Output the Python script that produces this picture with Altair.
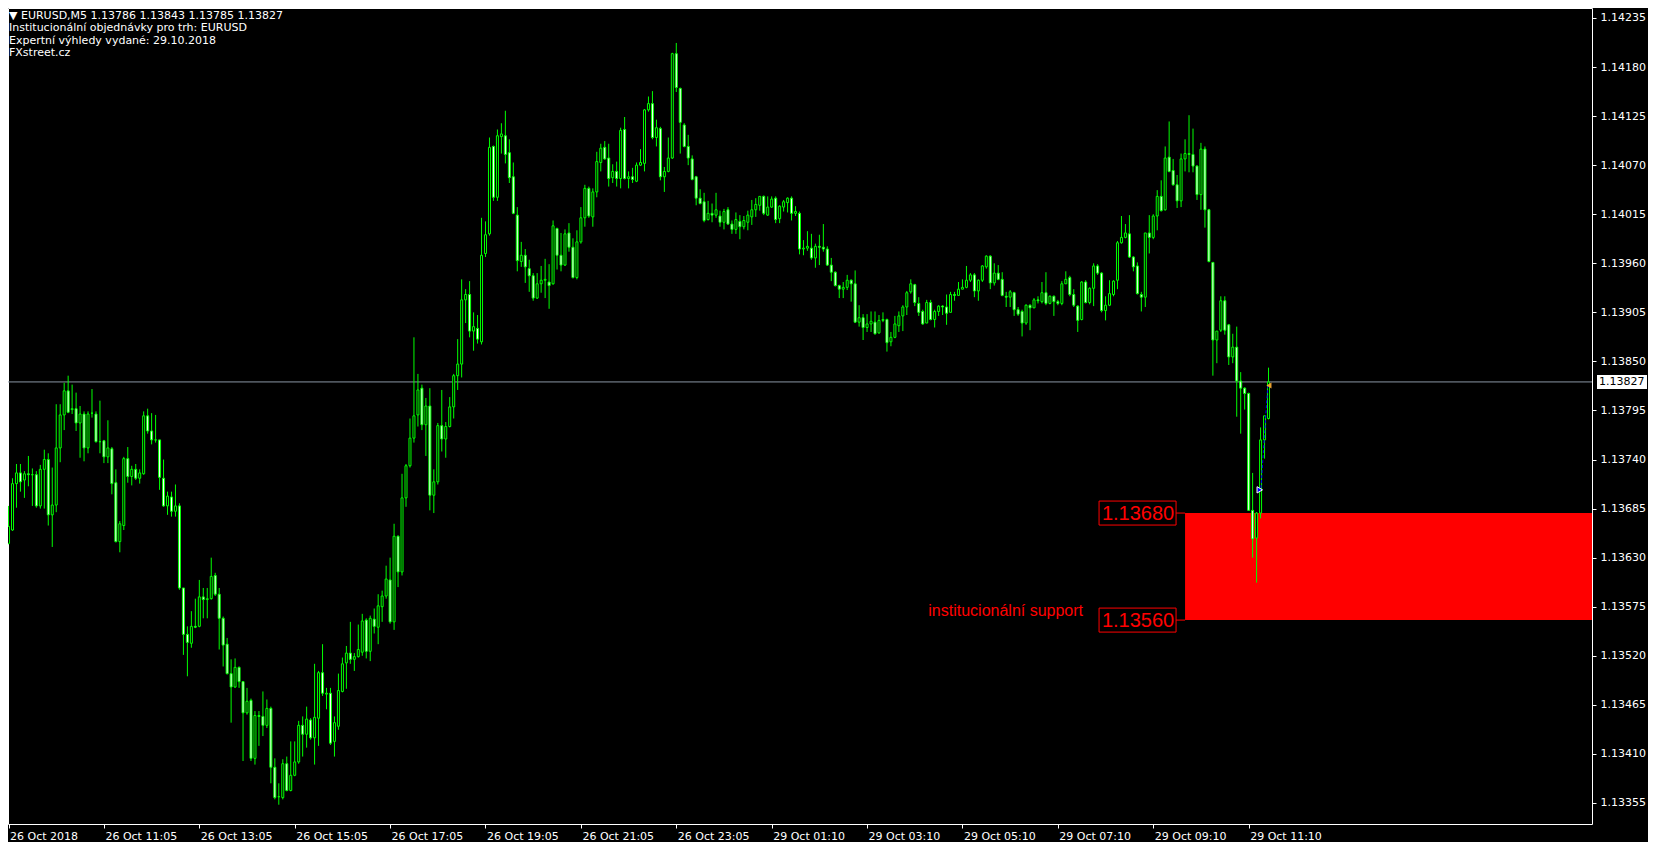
import altair as alt
import pandas as pd

# ---------------- data (prices stored as points above 1.13000) ----------------
BASE = 1.13
O = [646,661,713,725,717,724,723,723,688,729,740,678,689,753,790,817,796,797,781,791,
     753,792,791,760,761,743,752,714,648,666,741,721,729,719,724,789,772,762,762,719,
     688,698,682,688,596,544,534,553,553,586,583,584,610,589,562,533,500,485,507,491,
     456,470,405,453,452,442,461,395,362,361,399,369,386,401,442,432,448,428,450,501,
     477,478,424,441,480,512,523,516,519,524,560,525,561,552,575,587,605,558,654,614,
     697,733,764,790,820,779,800,700,715,778,763,777,799,834,847,919,925,884,887,872,
     971,993,1091,1034,1102,1103,1084,1057,1014,962,969,954,946,921,937,941,939,937,999,969,
     958,994,978,944,984,1011,1044,1012,1040,1073,1090,1078,1056,1063,1055,1110,1055,1057,1052,1070,
     1072,1132,1139,1101,1111,1057,1063,1078,1195,1156,1115,1091,1077,1057,1033,1029,1009,1016,1014,1013,
     1006,1020,1004,998,1007,1001,1006,1012,1020,1025,1035,1014,1023,1033,1010,1023,1028,1033,1016,1016,
     976,977,977,966,979,978,976,958,950,935,931,933,941,937,894,899,888,892,894,882,
     896,897,872,877,890,901,911,928,936,915,906,893,916,897,906,912,911,905,925,924,
     931,933,941,947,929,941,956,968,938,949,942,923,922,927,908,906,893,913,910,919,
     917,927,915,923,917,915,937,944,925,912,897,939,916,932,957,949,907,913,925,941,
     983,989,993,967,957,925,922,994,989,1013,1035,1020,1079,1064,1048,1030,1077,1083,1082,1069,
     1037,1088,1020,961,874,885,918,891,855,866,828,820,814,683,652,680,762,786]
H = [688,719,735,735,727,744,730,727,734,751,747,731,802,802,826,834,824,815,800,794,
     794,819,794,806,762,784,754,729,671,743,754,733,735,729,794,797,792,790,762,740,
     704,704,712,691,596,553,570,584,605,596,596,630,613,596,564,540,516,517,508,491,
     484,472,458,458,480,471,463,405,377,404,407,424,424,447,452,463,450,511,503,533,
     484,484,452,500,518,531,558,523,555,567,562,565,573,589,593,621,630,668,655,724,
     735,786,877,836,824,809,820,729,781,818,782,810,836,875,942,931,940,905,902,1011,
     1007,1101,1092,1110,1117,1131,1099,1073,1023,984,976,964,949,949,957,965,959,1008,1000,994,
     998,1005,988,997,1023,1048,1046,1044,1085,1094,1097,1094,1071,1074,1112,1124,1063,1067,1073,1088,
     1133,1147,1153,1121,1113,1068,1101,1196,1207,1157,1117,1104,1081,1058,1043,1039,1030,1027,1039,1019,
     1021,1023,1008,1017,1014,1013,1019,1031,1033,1035,1036,1035,1035,1035,1025,1031,1034,1035,1024,1018,
     986,996,993,982,992,1004,979,966,951,936,939,947,942,952,913,903,903,906,906,902,
     905,898,883,901,906,913,929,942,937,922,908,919,919,908,913,913,925,928,928,939,
     942,957,949,949,942,958,969,969,960,958,950,928,930,928,911,908,914,914,921,923,
     939,950,924,924,919,940,951,946,931,913,940,941,933,960,959,950,923,941,941,985,
     1013,1004,1014,968,961,928,994,1014,1015,1042,1053,1091,1119,1077,1059,1083,1099,1126,1111,1070,
     1095,1091,1021,961,884,923,923,892,881,889,838,821,815,725,681,776,789,843]
L = [645,660,686,704,697,710,688,686,685,685,666,642,681,737,773,792,791,772,742,738,
     747,787,759,747,736,736,701,647,636,661,714,711,717,713,723,769,757,759,706,687,
     678,676,676,594,521,497,529,551,552,562,562,583,587,527,508,499,445,484,484,402,
     454,402,398,419,430,439,377,359,353,359,368,368,385,399,407,417,426,398,419,475,
     460,420,407,437,479,483,511,503,518,520,517,514,545,533,558,584,556,549,597,610,
     687,731,759,777,773,744,683,680,712,749,742,776,786,818,832,893,877,862,870,869,
     967,991,1030,1030,1083,1072,1050,1015,951,956,938,928,918,920,927,921,909,936,953,951,
     957,973,943,942,982,1001,1011,1001,1034,1063,1076,1046,1050,1046,1044,1054,1044,1050,1051,1069,
     1063,1130,1099,1091,1053,1040,1062,1077,1152,1083,1090,1070,1053,1025,1026,1006,1008,1006,1011,1001,
     998,1003,993,993,987,998,997,1003,1012,1019,1014,1013,1022,1005,1005,1018,1017,1008,1013,970,
     969,974,964,955,958,973,957,940,934,921,921,930,917,893,889,874,883,883,880,881,
     894,861,867,876,883,884,902,926,912,901,891,893,896,888,901,902,891,905,918,924,
     931,932,939,922,918,939,954,931,935,941,923,911,911,901,901,878,891,885,910,915,
     915,913,914,901,913,913,937,923,911,883,896,915,914,912,947,905,896,912,923,931,
     982,988,966,951,925,906,911,971,987,997,1018,1019,1062,1047,1022,1023,1063,1062,1062,1031,
     1020,1000,961,834,848,883,880,846,848,788,769,796,683,630,602,674,741,785]
C = [665,713,725,715,724,723,723,688,729,740,678,689,753,790,817,793,797,781,791,753,
     791,792,760,760,743,753,713,648,668,741,721,729,719,725,789,772,762,762,720,688,
     699,682,688,596,544,535,553,552,586,583,584,609,589,562,532,500,485,507,491,456,
     469,405,453,452,442,461,395,361,362,399,369,386,401,442,432,449,428,451,501,478,
     478,422,445,481,511,523,516,519,527,559,525,562,553,576,587,606,558,654,614,697,
     733,764,789,818,779,800,700,715,778,763,777,799,834,847,919,925,884,889,875,969,
     992,1090,1034,1103,1105,1082,1056,1016,963,969,956,946,921,937,941,942,935,1002,969,958,
     993,978,944,984,1011,1044,1013,1040,1074,1089,1077,1055,1063,1055,1109,1055,1057,1054,1070,1073,
     1132,1139,1101,1112,1057,1063,1078,1195,1157,1118,1091,1078,1054,1033,1027,1008,1016,1014,1020,1006,
     1018,1004,998,1009,1001,1008,1014,1020,1026,1035,1016,1023,1032,1009,1024,1029,1033,1016,1018,976,
     977,979,966,979,978,976,958,950,935,931,933,941,937,894,899,888,892,895,881,896,
     897,871,877,892,901,911,927,937,916,905,892,916,897,906,912,911,904,925,924,931,
     933,941,947,929,941,957,968,938,949,942,924,922,928,908,903,893,913,910,919,918,
     927,915,923,917,915,937,942,925,913,896,939,916,932,957,949,907,913,926,940,983,
     989,994,967,956,926,922,994,989,1013,1035,1019,1078,1063,1048,1030,1077,1083,1082,1069,1037,
     1088,1020,962,874,884,918,885,855,866,828,820,814,683,651,680,762,789,827]

price_ticks = [1.13355, 1.13410, 1.13465, 1.13520, 1.13575, 1.13630, 1.13685, 1.13740,
               1.13795, 1.13850, 1.13905, 1.13960, 1.14015, 1.14070, 1.14125, 1.14180, 1.14235]
time_tick_bars = [0, 24, 48, 72, 96, 120, 144, 168, 192, 216, 240, 264, 288, 312]
time_labels = ["26 Oct 2018", "26 Oct 11:05", "26 Oct 13:05", "26 Oct 15:05", "26 Oct 17:05",
               "26 Oct 19:05", "26 Oct 21:05", "26 Oct 23:05", "29 Oct 01:10", "29 Oct 03:10",
               "29 Oct 05:10", "29 Oct 07:10", "29 Oct 09:10", "29 Oct 11:10"]
header_lines = ["\u25bc EURUSD,M5  1.13786 1.13843 1.13785 1.13827",
                "Institucionální objednávky pro trh: EURUSD",
                "Expertní výhledy vydané: 29.10.2018",
                "FXstreet.cz"]
bid_price = 1.13827
zone_top = 1.13680
zone_bottom = 1.13560
zone_start_bar = 296
zone_end_bar = 400
zone_text = "institucionální support"
trade_arrow = {"bar": 314.8, "price": 1.13706}
trade_now = {"bar": 317.1, "price": 1.13823}
trade_path_bars = [315.1, 316.8]
trade_path_prices = [1.13708, 1.13822]

# ---------------- frames ----------------
df = pd.DataFrame({
    "bar": list(range(len(O))),
    "open": [BASE + v / 1e5 for v in O],
    "high": [BASE + v / 1e5 for v in H],
    "low": [BASE + v / 1e5 for v in L],
    "close": [BASE + v / 1e5 for v in C],
})
df["body_hi"] = df[["open", "close"]].max(axis=1)
df["body_lo"] = df[["open", "close"]].min(axis=1)
df["dir"] = ["bear" if c < o else "bull" for o, c in zip(df["open"], df["close"])]

W, Hh = 1584, 816
FONT = "DejaVu Sans"
GREEN = "#00FF00"

xs = alt.Scale(domain=[1.125, 397.125], nice=False, zero=False)
ys = alt.Scale(domain=[1.133314, 1.142462], nice=False, zero=False)

label_expr = "[" + ",".join("'%s'" % t for t in time_labels) + "][round(datum.value/24)]"
x_axis = alt.Axis(values=time_tick_bars, labelExpr=label_expr, orient="bottom", tickSize=4,
                  labelPadding=2, labelAlign="left", labelOffset=1, labelFlush=False,
                  title=None, domain=False, grid=False)
y_axis = alt.Axis(values=price_ticks, format=".5f", orient="right", tickSize=4, labelPadding=4,
                  labelFlush=False, title=None, domain=False, grid=False)

zone_df = pd.DataFrame({"x0": [zone_start_bar], "x1": [zone_end_bar],
                        "top": [zone_top], "bottom": [zone_bottom]})
levels_df = pd.DataFrame({"start": [zone_start_bar, zone_start_bar],
                          "level": [zone_top, zone_bottom],
                          "label": ["%.5f" % zone_top, "%.5f" % zone_bottom]})

zone = alt.Chart(zone_df).mark_rect(color="#FF0000", clip=True).encode(
    x=alt.X("x0:Q", scale=xs, axis=x_axis), x2="x1:Q",
    y=alt.Y("top:Q", scale=ys, axis=y_axis), y2="bottom:Q")

bid = alt.Chart(pd.DataFrame({"p": [bid_price]})).mark_rule(color="#8A96A4", strokeWidth=1).encode(
    y=alt.Y("p:Q", scale=ys))

wicks = alt.Chart(df).mark_rule(color=GREEN, strokeWidth=1, clip=True).encode(
    x=alt.X("bar:Q", scale=xs), y=alt.Y("low:Q", scale=ys), y2="high:Q")

bodies = alt.Chart(df).mark_bar(size=2, stroke=GREEN, strokeWidth=1, clip=True).encode(
    x=alt.X("bar:Q", scale=xs), y=alt.Y("body_hi:Q", scale=ys), y2="body_lo:Q",
    fill=alt.Fill("dir:N", scale=alt.Scale(domain=["bull", "bear"], range=["#000000", "#FFFFFF"]),
                  legend=None))

boxes = alt.Chart(levels_df).mark_rect(fill="#000000", stroke="#FF0000", strokeWidth=1,
                                        xOffset=-86, x2Offset=-9, yOffset=-12, y2Offset=12).encode(
    x=alt.X("start:Q", scale=xs), x2="start:Q", y=alt.Y("level:Q", scale=ys), y2="level:Q")
connectors = alt.Chart(levels_df).mark_rule(color="#FF0000", strokeWidth=1, xOffset=-9).encode(
    x=alt.X("start:Q", scale=xs), x2="start:Q", y=alt.Y("level:Q", scale=ys))
box_text = alt.Chart(levels_df).mark_text(color="#FF0000", font="Liberation Sans", fontSize=20,
                                           align="center", baseline="middle", dx=-47, dy=1).encode(
    x=alt.X("start:Q", scale=xs), y=alt.Y("level:Q", scale=ys), text="label:N")
zone_label = alt.Chart(pd.DataFrame({"start": [zone_start_bar], "level": [zone_bottom],
                                     "t": [zone_text]})).mark_text(
    color="#FF0000", font="Liberation Sans", fontSize=16, align="right", baseline="alphabetic",
    dx=-102, dy=-4).encode(x=alt.X("start:Q", scale=xs), y=alt.Y("level:Q", scale=ys), text="t:N")

trade_df = pd.DataFrame({"bar": trade_path_bars, "price": trade_path_prices})
trade_line = alt.Chart(trade_df).mark_line(color="#0000FF", strokeWidth=1, strokeDash=[3, 2]).encode(
    x=alt.X("bar:Q", scale=xs), y=alt.Y("price:Q", scale=ys))
arrow = alt.Chart(pd.DataFrame([trade_arrow])).mark_point(
    shape="triangle-right", size=40, filled=True, fill="#0000FF", stroke="#FFFFFF", strokeWidth=1,
    opacity=1).encode(x=alt.X("bar:Q", scale=xs), y=alt.Y("price:Q", scale=ys))
now_mark = alt.Chart(pd.DataFrame([trade_now])).mark_point(
    shape="triangle-left", size=35, filled=True, fill="#E8A030", opacity=1).encode(
    x=alt.X("bar:Q", scale=xs), y=alt.Y("price:Q", scale=ys))

bid_df = pd.DataFrame({"p": [bid_price], "t": ["%.5f" % bid_price]})
bid_box = alt.Chart(bid_df).mark_rect(fill="#FFFFFF", yOffset=-7, y2Offset=7).encode(
    x=alt.value(W + 5), x2=alt.value(W + 55), y=alt.Y("p:Q", scale=ys), y2="p:Q")
bid_text = alt.Chart(bid_df).mark_text(
    color="#000000", font=FONT, fontSize=11, align="left", baseline="middle").encode(
    x=alt.value(W + 7), y=alt.Y("p:Q", scale=ys), text="t:N")

header = alt.Chart(pd.DataFrame({"k": [0]})).mark_text(
    color="#FFFFFF", font=FONT, fontSize=11, align="left", baseline="top", lineHeight=12.3).encode(
    x=alt.value(1), y=alt.value(2), text=alt.value(header_lines))

chart = alt.layer(zone, bid, wicks, bodies, trade_line, arrow, now_mark, connectors, boxes, box_text,
                  zone_label, bid_box, bid_text, header).properties(
    width=W, height=Hh,
    padding={"left": 0, "top": 0, "right": 56, "bottom": 18},
    autosize=alt.AutoSizeParams(type="none"),
    background="#000000",
).configure_view(stroke="#FFFFFF", strokeWidth=1).configure_axis(
    labelColor="#FFFFFF", tickColor="#FFFFFF", labelFont=FONT, labelFontSize=11,
    tickWidth=1)

chart.save("out.html", embed_options={"renderer": "svg", "actions": False})
